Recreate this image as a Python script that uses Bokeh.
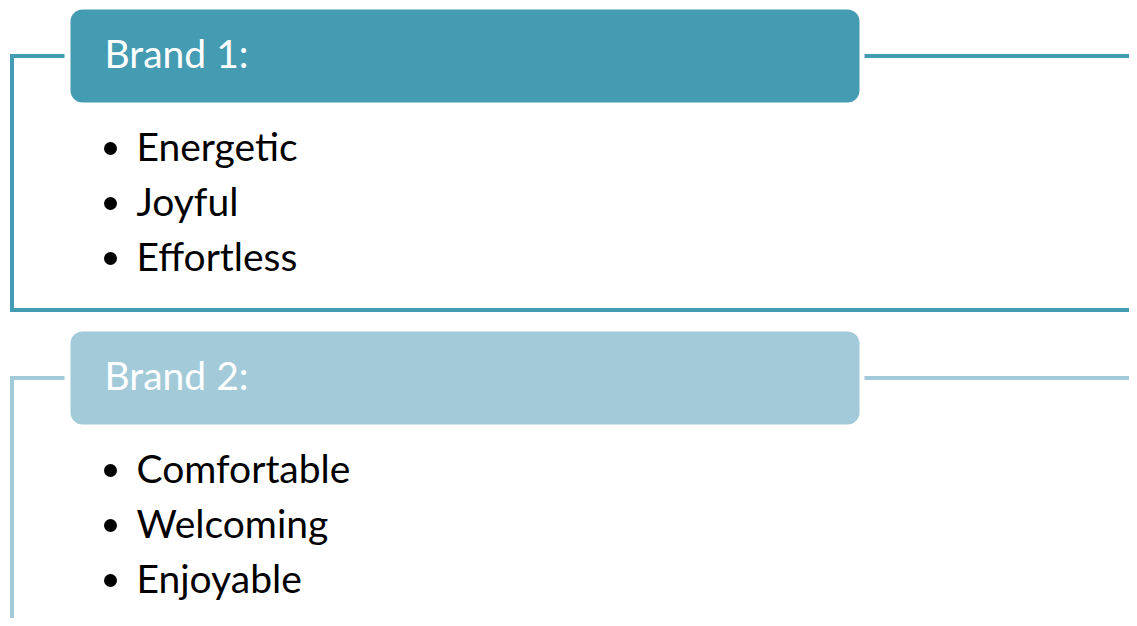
from bokeh.plotting import figure
from bokeh.models import Range1d, ColumnDataSource
from bokeh.core.properties import value
from bokeh.embed import file_html
from bokeh.resources import INLINE

# ---- content ----
brands = ["Brand 1:", "Brand 2:"]
brand_colors = ["#449CB3", "#A2CAD9"]
attributes = [
    ["Energetic", "Joyful", "Effortless"],
    ["Comfortable", "Welcoming", "Enjoyable"],
]

FONT = "Lato"
FONT_SIZE = "39px"
TEXT_SHIFT = 16   # compensation for the renderer's baseline placement

W, H = 1129, 618
p = figure(width=W, height=H, output_backend="svg", toolbar_location=None,
           x_range=Range1d(0, W), y_range=Range1d(H, 0),
           min_border=0, outline_line_color=None, background_fill_color="white")
p.axis.visible = False
p.grid.visible = False

# layout (pixel coordinates)
block_offset = 322
box_left, box_right = 70, 859
box_top, box_h = 9, 93
line_w = 4
frame_x = 11.5
frame_bottom = [309.5, 660]

for i, (name, col, items) in enumerate(zip(brands, brand_colors, attributes)):
    oy = i * block_offset
    cy = box_top + box_h / 2 + oy
    # frame lines
    p.line([64, frame_x, frame_x, 1160], [cy, cy, frame_bottom[i], frame_bottom[i]],
           line_color=col, line_width=line_w, line_join="miter")
    p.line([864, 1160], [cy, cy], line_color=col, line_width=line_w)
    # header box
    p.rect(x=[(box_left + box_right) / 2], y=[cy], width=box_right - box_left,
           height=box_h, fill_color=col, line_color=None, border_radius=12)
    p.text(x=[104], y=[68 + oy - TEXT_SHIFT], text=[name], text_color="white",
           text_font=value(FONT), text_font_size=FONT_SIZE, text_baseline="alphabetic")
    # bullet items
    ys = [161.5 + oy + k * 55 for k in range(len(items))]
    src = ColumnDataSource(dict(x=[136] * len(items), y=[y - TEXT_SHIFT for y in ys],
                                t=items, by=[y - 13.5 for y in ys],
                                bx=[110] * len(items)))
    p.scatter("bx", "by", source=src, size=13, marker="circle",
              fill_color="black", line_color=None)
    p.text("x", "y", text="t", source=src, text_color="black",
           text_font=value(FONT), text_font_size=FONT_SIZE, text_baseline="alphabetic")

open("out.html", "w").write(file_html(p, INLINE))
